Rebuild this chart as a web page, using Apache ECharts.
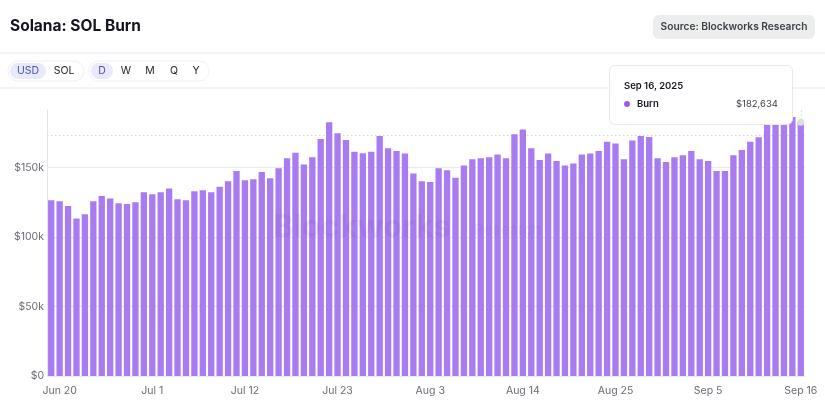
<!DOCTYPE html>
<html>
<head>
<meta charset="utf-8">
<style>
  html, body { margin: 0; padding: 0; background: #fff; }
  #main { width: 825px; height: 407px; }
</style>
<script src="https://cdn.jsdelivr.net/npm/echarts@6/dist/echarts.min.js"></script>
</head>
<body>
<div id="main"></div>
<script>
const FONT = 'Inter';

const startDay = ['Jun', 19];
const monthLengths = { Jun: 30, Jul: 31, Aug: 31, Sep: 30 };
const monthOrder = ['Jun', 'Jul', 'Aug', 'Sep'];

// values in $k (Jun 19 .. Sep 16)
const burnJun = [126.5, 125.8, 122.4, 113.3, 116.4, 125.8, 129.6, 127.7, 124.3, 123.9, 125.1, 132.3];
const burnJul = [130.8, 132.3, 134.9, 127.2, 126.5, 133, 133.7, 132.3, 136.3, 140.2, 147.6, 140.9,
  141.6, 146.9, 142.3, 149.5, 156.7, 160.8, 152.2, 157.5, 170.7, 182.7, 174.7, 169.9, 161.5, 160.3,
  161.5, 172.8, 163.9, 162, 160.1];
const burnAug = [145.7, 140.2, 139.7, 149.5, 148.1, 142.8, 151.5, 156, 156.7, 157.5, 159.4, 156.7,
  174, 177.4, 163.9, 155.5, 160.1, 154.8, 151.5, 152.9, 159.4, 160.1, 162, 168.7, 167.3, 156, 169.5,
  172.8, 172.1, 156.7, 154.1];
const burnSep = [157.5, 158.9, 162, 156, 154.8, 147.6, 147.6, 158.9, 162.7, 168.7, 171.9, 182, 183, 184, 186.5, 182.634];

const burn = [...burnJun, ...burnJul, ...burnAug, ...burnSep];
const refLine = 173.2;
const tickValues = [0, 50, 100, 150];

const categories = [];
let m = 0, d = startDay[1];
burn.forEach(() => {
  categories.push(monthOrder[m] + ' ' + d);
  d++;
  if (d > monthLengths[monthOrder[m]]) { d = 1; m++; }
});

function pill(x, y, w, h, r, fill, stroke) {
  return {
    type: 'rect', silent: true,
    shape: { x: x, y: y, width: w, height: h, r: r },
    style: { fill: fill, stroke: stroke || null, lineWidth: 1 }
  };
}
function label(text, x, y, size, color, weight, align, z) {
  return {
    type: 'text', silent: true, z: z || 1,
    style: {
      text: text, x: x, y: y, font: (weight || 400) + ' ' + size + 'px ' + FONT,
      fill: color, align: align || 'center', verticalAlign: 'middle'
    }
  };
}
function hline(y) {
  return {
    type: 'line', silent: true,
    shape: { x1: 0, y1: y, x2: 825, y2: y },
    style: { stroke: '#e8e9ee', lineWidth: 1 }
  };
}

const myChart = echarts.init(document.getElementById('main'));
myChart.setOption({
  animation: false,
  backgroundColor: '#ffffff',
  title: {
    text: 'Solana: SOL Burn', left: 10, top: 18, padding: 0,
    textStyle: { fontFamily: FONT, fontSize: 15.5, fontWeight: 700, color: '#14141f' }
  },
  grid: { left: 47, right: 20, top: 110, bottom: 31, containLabel: false },
  tooltip: {
    trigger: 'axis',
    alwaysShowContent: true,
    transitionDuration: 0,
    position: [609, 65],
    padding: 0,
    borderWidth: 0,
    backgroundColor: 'transparent',
    extraCssText: 'box-shadow:none;',
    axisPointer: { type: 'line', lineStyle: { color: '#d6d7dc', type: [1.5, 2.5], width: 1 }, z: 1 },
    formatter: function (params) {
      const v = Math.round(params[0].value * 1000).toLocaleString('en-US');
      return '<div style="box-sizing:border-box;width:184px;height:60px;background:#fff;border:1px solid #e8e9ee;border-radius:6px;padding:13px 14px 0 14px;font-family:Inter;color:#14141f;">'
        + '<div style="font-size:9.5px;font-weight:600;line-height:14px;">Sep 16, 2025</div>'
        + '<div style="display:flex;align-items:center;font-size:9.5px;line-height:14px;margin-top:4px;">'
        + '<span style="width:6px;height:6px;border-radius:50%;background:#9b5de0;margin-right:7px;"></span>'
        + '<span style="font-weight:600;flex:1;">Burn</span><span style="color:#3c3c46;">$' + v + '</span></div></div>';
    }
  },
  xAxis: {
    type: 'category',
    data: categories,
    axisLine: { show: false },
    axisTick: { show: false },
    axisLabel: {
      interval: function (i) { return (i - 1) % 11 === 0; },
      hideOverlap: false,
      fontFamily: FONT, fontSize: 10.5, color: '#6b6b75', margin: 9
    }
  },
  yAxis: {
    type: 'value',
    min: 0,
    max: 191.5,
    interval: 50,
    axisLine: { show: true, lineStyle: { color: '#e4e5ea' } },
    axisTick: { show: false },
    splitLine: { showMaxLine: false, lineStyle: { color: '#e8e9ee' } },
    axisLabel: {
      fontFamily: FONT, fontSize: 10.5, color: '#6b6b75', margin: 3,
      formatter: function (v) {
        if (tickValues.indexOf(v) < 0) return '';
        return v === 0 ? '$0' : '$' + v + 'k';
      }
    }
  },
  series: [{
    name: 'Burn',
    type: 'bar',
    data: burn,
    barCategoryGap: '25%',
    itemStyle: { color: '#a97bf0' },
    emphasis: { disabled: true },
    markLine: {
      silent: true, symbol: 'none', z: 1,
      label: { show: false },
      lineStyle: { color: '#d6d7dc', type: [1.5, 2.5], width: 1.2 },
      data: [{ yAxis: refLine }]
    },
    markPoint: {
      silent: true, symbol: 'circle', symbolSize: 7,
      itemStyle: { color: '#dcdde2' },
      label: { show: false },
      data: [{ coord: [categories[89], burn[89]] }]
    }
  }],
  graphic: [
    hline(53), hline(88),
    pill(653, 15, 162, 24, 6, '#eceded'),
    label('Source: Blockworks Research', 734, 27, 10.2, '#3f4048', 600),
    pill(8, 61, 76, 20, 10, '#ffffff', '#f0f0f6'),
    pill(10, 63, 36, 16, 8, '#e8e9fa'),
    label('USD', 28, 71, 10.5, '#4d55a8'),
    label('SOL', 64, 71, 10.5, '#26262e'),
    pill(89, 61, 120, 20, 10, '#ffffff', '#f0f0f6'),
    pill(91, 63, 22, 16, 8, '#e8e9fa'),
    label('D', 102, 71, 10.5, '#4d55a8'),
    label('W', 126, 71, 10.5, '#26262e'),
    label('M', 150, 71, 10.5, '#26262e'),
    label('Q', 174, 71, 10.5, '#26262e'),
    label('Y', 196, 71, 10.5, '#26262e'),
    label('Blockworks', 273, 228, 31, 'rgba(90,60,160,0.09)', 700, 'left', 20),
    label('Research', 474, 230, 15, 'rgba(90,60,160,0.07)', 500, 'left', 20)
  ]
});
myChart.dispatchAction({ type: 'showTip', seriesIndex: 0, dataIndex: 89 });
</script>
</body>
</html>
